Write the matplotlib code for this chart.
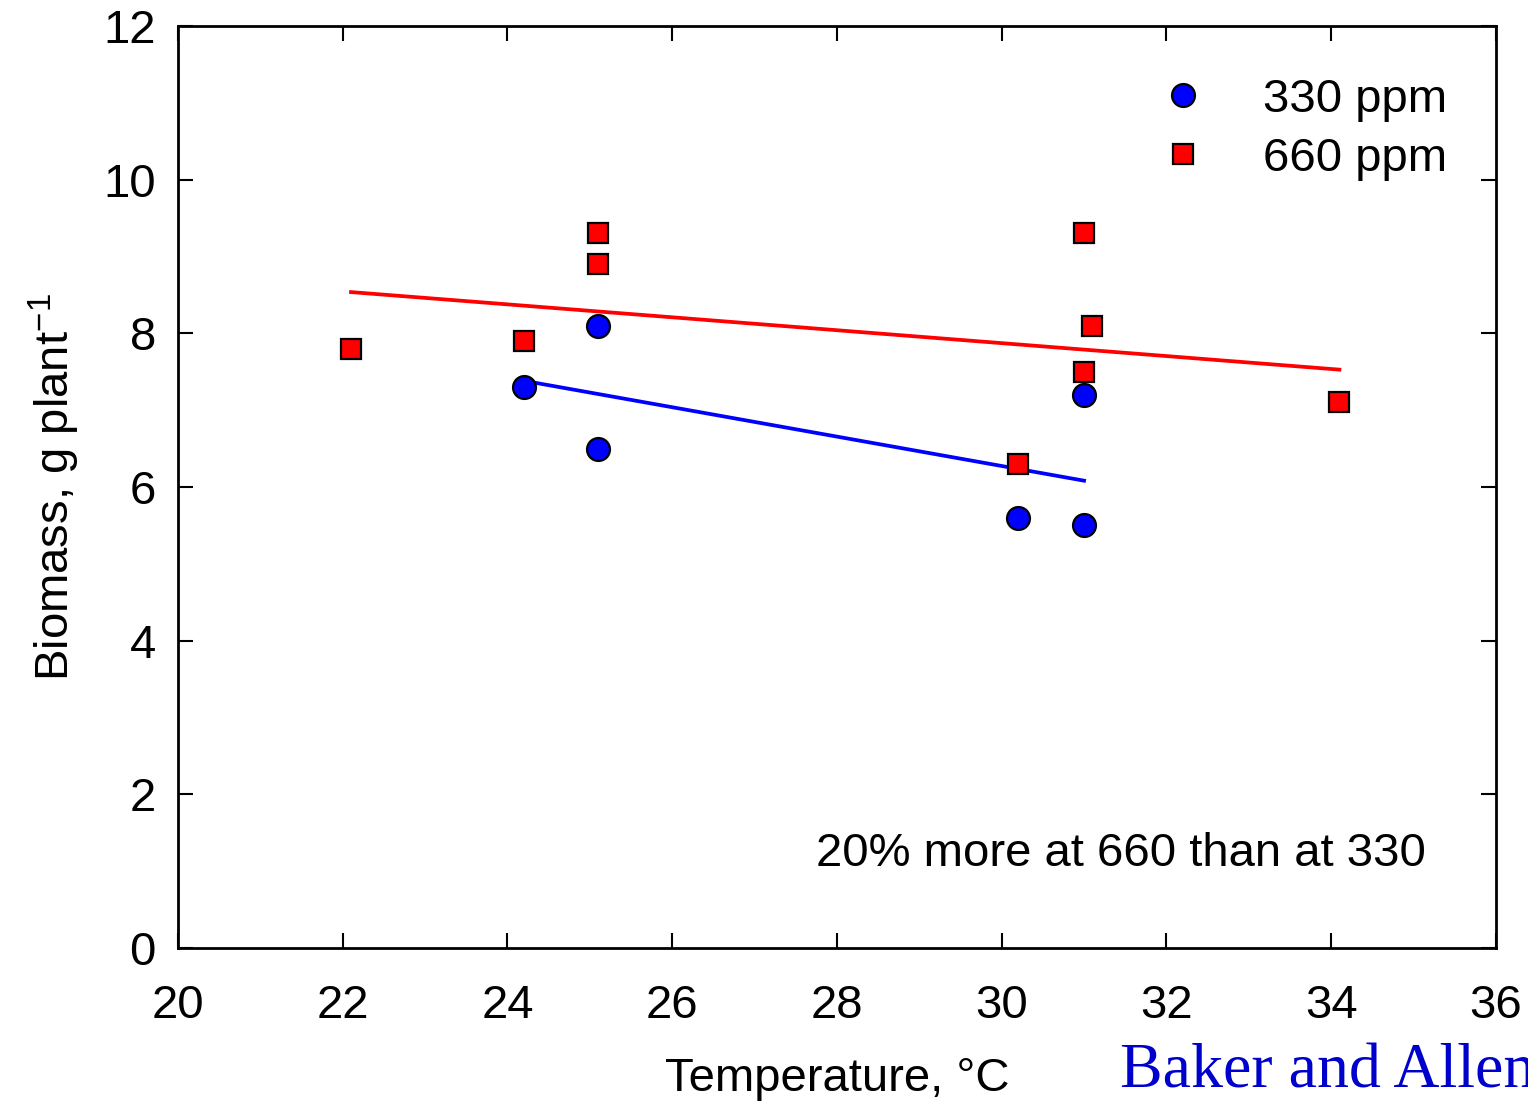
"""Biomass vs temperature at two CO2 levels (Baker and Allen)."""

import matplotlib
matplotlib.use("Agg")
import matplotlib.pyplot as plt
import numpy as np

plt.rcParams["font.family"] = ["Liberation Sans", "DejaVu Sans"]
plt.rcParams["mathtext.fontset"] = "custom"
plt.rcParams["mathtext.rm"] = "Liberation Sans"

temp_330 = [24.2, 25.1, 25.1, 30.2, 31.0, 31.0]
biomass_330 = [7.3, 8.1, 6.5, 5.6, 7.2, 5.5]

temp_660 = [22.1, 24.2, 25.1, 25.1, 30.2, 31.0, 31.1, 31.0, 34.1]
biomass_660 = [7.8, 7.9, 9.3, 8.9, 6.3, 9.3, 8.1, 7.5, 7.1]

xticks = [20, 22, 24, 26, 28, 30, 32, 34, 36]
yticks = [0, 2, 4, 6, 8, 10, 12]

FS = 34

fig = plt.figure(figsize=(15.28, 11.03), dpi=100)
ax = fig.add_axes([0.1165, 0.1405, 0.8625, 0.836])

# regression lines over each series' range
for tx, by, col in [(temp_330, biomass_330, "blue"), (temp_660, biomass_660, "red")]:
    k, b = np.polyfit(tx, by, 1)
    xs = np.array([min(tx), max(tx)])
    ax.plot(xs, k * xs + b, color=col, lw=2.7, zorder=2)

ax.plot(temp_330, biomass_330, "o", ms=16.5, mfc="blue", mec="black", mew=1.6,
        ls="none", label="330 ppm", zorder=3)
ax.plot(temp_660, biomass_660, "s", ms=14.5, mfc="red", mec="black", mew=1.6,
        ls="none", label="660 ppm", zorder=3)

ax.set_xlim(20, 36)
ax.set_ylim(0, 12)
ax.set_xticks(xticks)
ax.set_yticks(yticks)
ax.tick_params(direction="in", length=11, width=1.5, labelsize=FS,
               top=True, right=True)
ax.tick_params(axis="x", pad=26)
ax.tick_params(axis="y", pad=16)
for sp in ax.spines.values():
    sp.set_linewidth(2)

ax.set_xlabel("Temperature, °C", fontsize=FS, labelpad=21)
ax.set_ylabel("Biomass, g plant$^{\\mathrm{-1}}$", fontsize=FS, labelpad=15)

ax.legend(loc="upper right", bbox_to_anchor=(1447 / 1528, 1 - 78 / 1103),
          bbox_transform=fig.transFigure, frameon=False, fontsize=FS,
          handletextpad=0.7, labelspacing=0.31, borderaxespad=0, borderpad=0)

ax.text(0.947, 0.102, "20% more at 660 than at 330", transform=ax.transAxes,
        fontsize=FS, ha="right", va="center")

fig.text(0.733, 0.014, "Baker and Allen", fontsize=46, color="#0000cc",
         family=["Liberation Serif", "DejaVu Serif"], ha="left", va="baseline")

fig.savefig("out.png", dpi=100)
